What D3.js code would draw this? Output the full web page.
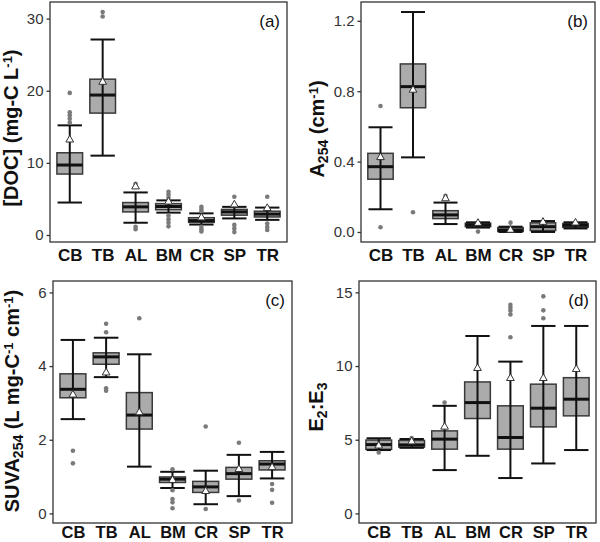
<!DOCTYPE html>
<html><head><meta charset="utf-8">
<script src="https://cdn.jsdelivr.net/npm/d3@7"></script>
<style>body{margin:0;background:#fff}svg{display:block}</style>
</head><body><svg id="c" width="600" height="542"></svg>
<script>
const categories = ["CB","TB","AL","BM","CR","SP","TR"];

// [whisker low, Q1, median, Q3, whisker high]
const docBox = [[4.5,8.45,9.7,11.4,15.2],[11.0,16.9,19.4,21.6,27.1],[1.7,3.2,3.9,4.5,5.9],[3.1,3.5,3.95,4.35,4.8],[1.45,1.75,2.0,2.4,3.0],[2.3,2.75,3.2,3.55,3.9],[2.1,2.5,2.9,3.3,3.8]];
const docMean = [13.2,21.2,6.7,4.6,2.4,4.2,3.7];
const docOutliers = [[15.6,16.1,16.6,17.0,19.7],[30.3,30.9],[7.1,1.15,0.8],[6.0,5.6,5.2,2.7,2.2,1.7,1.2],[3.9,3.6,3.3,1.15,0.8,0.5],[5.3,1.4,0.9,0.4],[5.3,1.6,1.1,0.7]];
const docTicks = [0,10,20,30];

const a254Box = [[0.129,0.30,0.371,0.447,0.595],[0.424,0.706,0.826,0.955,1.25],[0.045,0.076,0.097,0.121,0.167],[0.025,0.030,0.040,0.050,0.055],[0.0,0.003,0.011,0.025,0.03],[0.0,0.008,0.030,0.052,0.062],[0.02,0.027,0.038,0.048,0.055]];
const a254Mean = [0.424,0.807,0.19,0.05,0.011,0.056,0.052];
const a254Outliers = [[0.716,0.027],[0.112],[0.205],[0.002],[0.053],[],[]];
const a254Ticks = [0,0.4,0.8,1.2];

const suvaBox = [[2.56,3.14,3.37,3.79,4.71],[3.70,4.05,4.25,4.36,4.77],[1.27,2.29,2.67,3.28,4.32],[0.69,0.84,0.93,0.99,1.13],[0.25,0.57,0.72,0.87,1.16],[0.47,0.93,1.08,1.25,1.59],[0.95,1.18,1.34,1.43,1.67]];
const suvaMean = [3.22,3.82,2.74,0.9,0.6,1.2,1.25];
const suvaOutliers = [[1.70,1.36],[5.15,4.92,3.40,3.33],[5.3],[1.2,0.63,0.39,0.30,0.14],[2.36,0.12],[1.92,0.35],[0.80,0.64,0.29]];
const suvaTicks = [0,2,4,6];

const e2e3Box = [[4.3,4.35,4.67,4.98,5.1],[4.45,4.5,4.65,4.95,5.05],[2.94,4.36,5.04,5.6,7.3],[3.91,6.44,7.52,8.92,12.04],[2.4,4.36,5.15,7.3,10.3],[3.39,5.87,7.14,8.77,12.72],[4.3,6.62,7.75,9.21,12.72]];
const e2e3Mean = [4.59,4.87,5.87,9.85,9.17,9.17,9.78];
const e2e3Outliers = [[4.13],[5.12],[7.52],[],[11.95,13.5,13.75,13.95,14.15],[13.24,13.78,14.73],[]];
const e2e3Ticks = [0,5,10,15];

const svg = d3.select("#c");
const FONT = "'Liberation Sans', Arial, sans-serif";

function panel(opt){
  const {x0,x1,y0,y1,domain,box,mean,outliers,ticks,fmt,label,title,titleX,titleY,labPad,labSize} = opt;
  const g = svg.append("g");
  const x = d3.scalePoint().domain(categories).range([x0,x1]).padding(0.6);
  const step = x.step();
  const y = d3.scaleLinear().domain(domain).range([y1,y0]);
  const bw = step*0.78, cw = step*0.74;

  const cat = g.selectAll("g.cat").data(categories).join("g");
  cat.append("rect")
    .attr("x",(d)=>x(d)-bw/2).attr("width",bw)
    .attr("y",(d,i)=>y(box[i][3])).attr("height",(d,i)=>Math.max(1,y(box[i][1])-y(box[i][3])))
    .attr("fill","#ababab").attr("stroke","#3a3a3a").attr("stroke-width",1.5);
  cat.append("line").attr("x1",d=>x(d)).attr("x2",d=>x(d))
    .attr("y1",(d,i)=>y(box[i][0])).attr("y2",(d,i)=>y(box[i][4]))
    .attr("stroke","#111").attr("stroke-width",2);
  [0,4].forEach(k=>{
    cat.append("line").attr("x1",d=>x(d)-cw/2).attr("x2",d=>x(d)+cw/2)
      .attr("y1",(d,i)=>y(box[i][k])).attr("y2",(d,i)=>y(box[i][k]))
      .attr("stroke","#111").attr("stroke-width",2);
  });
  cat.append("line").attr("x1",d=>x(d)-bw/2).attr("x2",d=>x(d)+bw/2)
    .attr("y1",(d,i)=>y(box[i][2])).attr("y2",(d,i)=>y(box[i][2]))
    .attr("stroke","#111").attr("stroke-width",3);
  const pts = [];
  outliers.forEach((arr,i)=>arr.forEach(v=>pts.push({c:categories[i],v})));
  g.selectAll("circle.o").data(pts).join("circle")
    .attr("cx",d=>x(d.c)).attr("cy",d=>y(d.v)).attr("r",2.3)
    .attr("fill","#7a7a7a");
  g.selectAll("path.m").data(categories).join("path")
    .attr("d",d3.symbol(d3.symbolTriangle,26))
    .attr("transform",(d,i)=>`translate(${x(d)},${y(mean[i])})`)
    .attr("fill","#fff").attr("stroke","#333").attr("stroke-width",1);

  g.append("rect").attr("x",x0).attr("y",y0).attr("width",x1-x0).attr("height",y1-y0)
    .attr("fill","none").attr("stroke","#333").attr("stroke-width",1.3);

  const ya = g.append("g").attr("transform",`translate(${x0},0)`)
    .call(d3.axisLeft(y).tickValues(ticks).tickFormat(fmt).tickSize(3.5).tickPadding(3));
  ya.select(".domain").remove();
  ya.selectAll(".tick line").attr("stroke","#333").attr("stroke-width",1.3);
  ya.selectAll(".tick text").attr("fill","#333").style("font-family",FONT).style("font-size","15px");

  const xa = g.append("g").attr("transform",`translate(0,${y1})`)
    .call(d3.axisBottom(x).tickSize(0).tickPadding(labPad));
  xa.select(".domain").remove();
  xa.selectAll(".tick text").attr("fill","#111").style("font-family",FONT)
    .style("font-size",labSize+"px").style("font-weight","bold");

  g.append("text").attr("x",x1-7).attr("y",y0+25).attr("text-anchor","end")
    .style("font-family",FONT).style("font-size","17px").attr("fill","#111").text(label);

  const t = g.append("text").attr("transform",`translate(${titleX},${titleY}) rotate(-90)`)
    .attr("text-anchor","middle").style("font-family",FONT).style("font-size","20px")
    .style("font-weight","bold").attr("fill","#111");
  title.forEach(p=>{
    const ts = t.append("tspan").text(p.t);
    if(p.s==="sub"){ts.attr("baseline-shift","-25%").style("font-size","14px");}
    if(p.s==="sup"){ts.attr("baseline-shift","45%").style("font-size","13px");}
    if(p.s==="back"){ts.attr("baseline-shift","0%");}
  });
}

const f0 = d3.format("d"), f1 = d3.format(".1f");
panel({x0:50,x1:287,y0:2,y1:242,domain:[-0.97,32.3],box:docBox,mean:docMean,outliers:docOutliers,ticks:docTicks,fmt:f0,label:"(a)",labPad:7,labSize:17,
  title:[{t:"[DOC] (mg-C L"},{t:"-1",s:"sup"},{t:")",s:"back"}],titleX:18,titleY:128});
panel({x0:361,x1:595,y0:2,y1:242,domain:[-0.057,1.307],box:a254Box,mean:a254Mean,outliers:a254Outliers,ticks:a254Ticks,fmt:f1,label:"(b)",labPad:7,labSize:17,
  title:[{t:"A"},{t:"254",s:"sub"},{t:" (cm",s:"back"},{t:"-1",s:"sup"},{t:")",s:"back"}],titleX:324,titleY:129});
panel({x0:53,x1:292,y0:281,y1:523,domain:[-0.26,6.31],box:suvaBox,mean:suvaMean,outliers:suvaOutliers,ticks:suvaTicks,fmt:f0,label:"(c)",labPad:3,labSize:16.5,
  title:[{t:"SUVA"},{t:"254",s:"sub"},{t:" (L mg-C",s:"back"},{t:"-1",s:"sup"},{t:" cm",s:"back"},{t:"-1",s:"sup"},{t:")",s:"back"}],titleX:19,titleY:401});
panel({x0:359,x1:596,y0:281,y1:523,domain:[-0.65,15.77],box:e2e3Box,mean:e2e3Mean,outliers:e2e3Outliers,ticks:e2e3Ticks,fmt:f0,label:"(d)",labPad:3,labSize:16.5,
  title:[{t:"E"},{t:"2",s:"sub"},{t:":E",s:"back"},{t:"3",s:"sub"}],titleX:323,titleY:407});
</script></body></html>
